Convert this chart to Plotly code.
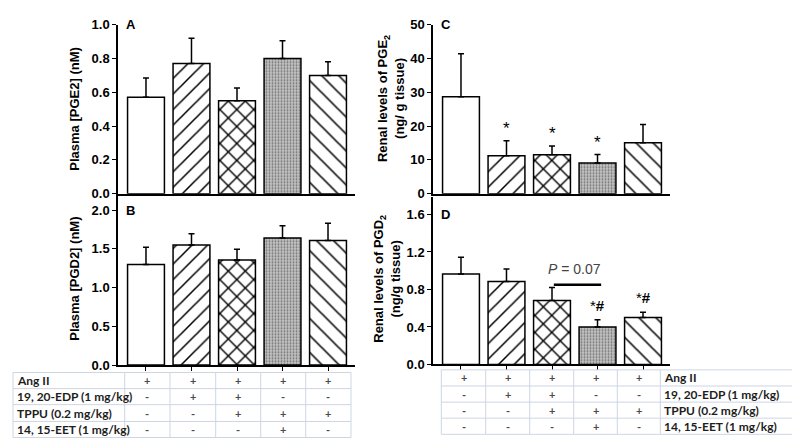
import plotly.graph_objects as go

# ---------------- data ----------------
groups = ["Ang II", "Ang II+EDP", "Ang II+EDP+TPPU", "Ang II+TPPU+EET", "Ang II+TPPU"]
xpos = [0, 1, 2, 3, 4]

plasma_pge2 = [0.57, 0.77, 0.55, 0.80, 0.70]
plasma_pge2_err = [0.115, 0.15, 0.075, 0.105, 0.08]

renal_pge2 = [28.7, 11.2, 11.5, 9.1, 15.1]
renal_pge2_err = [12.7, 4.5, 2.6, 2.5, 5.4]

plasma_pgd2 = [1.30, 1.55, 1.355, 1.64, 1.61]
plasma_pgd2_err = [0.22, 0.145, 0.14, 0.16, 0.22]

renal_pgd2 = [0.964, 0.884, 0.681, 0.40, 0.50]
renal_pgd2_err = [0.18, 0.135, 0.14, 0.077, 0.057]

sig_c = ["", "*", "*", "*", ""]
sig_d = ["", "", "", "*<b>#</b>", "*<b>#</b>"]
p_text = "<i>P</i> = 0.07"
p_line_y = 0.85
p_text_y = 0.985

treatments = ["Ang II", "19, 20-EDP (1 mg/kg)", "TPPU (0.2 mg/kg)", "14, 15-EET (1 mg/kg)"]
design = [
    ["+", "-", "-", "-"],
    ["+", "+", "-", "-"],
    ["+", "+", "+", "-"],
    ["+", "-", "+", "+"],
    ["+", "-", "+", "-"],
]

# ---------------- styles ----------------
W, H = 800, 443
shapes_ = ["", "/", "x", ".", "\\"]
fg = ["black", "black", "black", "#707070", "black"]
bg = ["white", "white", "white", "#c2c2c2", "white"]
psize = [8, 11, 12, 3, 12]
psol = [0.1, 0.14, 0.22, 0.3, 0.13]

fig = go.Figure()

def add_panel(vals, errs, xa, ya):
    fig.add_trace(go.Bar(
        x=xpos, y=vals, width=0.81, xaxis=xa, yaxis=ya,
        marker=dict(color="white", line=dict(color="black", width=1.5),
                    pattern=dict(shape=shapes_, fgcolor=fg, bgcolor=bg,
                                 size=psize, solidity=psol, fillmode="replace")),
        error_y=dict(type="data", array=errs, arrayminus=[0]*5, symmetric=False,
                     color="black", thickness=1.5, width=3),
        showlegend=False, hoverinfo="skip"))

add_panel(plasma_pge2, plasma_pge2_err, "x", "y")
add_panel(renal_pge2, renal_pge2_err, "x2", "y2")
add_panel(plasma_pgd2, plasma_pgd2_err, "x3", "y3")
add_panel(renal_pgd2, renal_pgd2_err, "x4", "y4")

def px_x(a, b):
    return [a / W, b / W]

def px_y(top, bottom):
    return [1 - bottom / H, 1 - top / H]

xr = [-0.615, 4.593]
tickfont = dict(family="Arial", size=13, color="black", weight="bold")

def xaxis_cfg(dom, anchor, ticks):
    return dict(domain=dom, anchor=anchor, range=xr, showline=True, linecolor="black",
                linewidth=1.5, showgrid=False, zeroline=False, showticklabels=False,
                ticks="outside" if ticks else "", tickvals=xpos, ticklen=4, tickwidth=1.2,
                tickcolor="black")

def yaxis_cfg(dom, anchor, rng, fmt, tvals):
    return dict(domain=dom, anchor=anchor, range=rng, showline=True, linecolor="black",
                linewidth=1.5, showgrid=False, zeroline=False, ticks="outside", ticklen=4,
                tickwidth=1.2, tickcolor="black", tickvals=tvals, tickformat=fmt,
                tickfont=tickfont)

fig.update_layout(
    width=W, height=H, margin=dict(l=0, r=0, t=0, b=0),
    paper_bgcolor="white", plot_bgcolor="white",
    xaxis=xaxis_cfg(px_x(110, 347), "y", False),
    yaxis=yaxis_cfg(px_y(10, 185), "x", [0, 1.0], ".1f", [0, 0.2, 0.4, 0.6, 0.8, 1.0]),
    xaxis2=xaxis_cfg(px_x(425, 662), "y2", False),
    yaxis2=yaxis_cfg(px_y(10, 185), "x2", [0, 50], "d", [0, 10, 20, 30, 40, 50]),
    xaxis3=xaxis_cfg(px_x(110, 347), "y3", True),
    yaxis3=yaxis_cfg(px_y(186, 362.3), "x3", [0, 2.2], ".1f", [0, 0.5, 1.0, 1.5, 2.0]),
    xaxis4=xaxis_cfg(px_x(425, 662), "y4", True),
    yaxis4=yaxis_cfg(px_y(188, 361.7), "x4", [0, 1.79], ".1f", [0, 0.4, 0.8, 1.2, 1.6]),
)

ann = []
shp = []
lab_font = dict(family="Arial", size=13, color="black", weight="bold")
# panel letters
for txt, xa, ya, yv in [("A", "x", "y", 1.0), ("C", "x2", "y2", 50), ("B", "x3", "y3", 2.0), ("D", "x4", "y4", 1.6)]:
    ann.append(dict(text=txt, xref=xa + " domain", yref=ya, x=0.025, y=yv, xanchor="left",
                    yanchor="middle", showarrow=False, font=lab_font))

# y titles
title_font = dict(family="Arial", size=13, color="black", weight="bold")
ann.append(dict(text="Plasma [PGE2] (nM)", xref="paper", yref="paper", x=67 / W, y=1 - 97 / H,
                textangle=-90, showarrow=False, font=title_font, xanchor="center", yanchor="middle"))
ann.append(dict(text="Plasma [PGD2] (nM)", xref="paper", yref="paper", x=67 / W, y=1 - 273 / H,
                textangle=-90, showarrow=False, font=title_font, xanchor="center", yanchor="middle"))
ann.append(dict(text="Renal levels of PGE<sub>2</sub><br>(ng/ g tissue)", xref="paper", yref="paper",
                x=383 / W, y=1 - 87 / H, textangle=-90, showarrow=False, font=title_font,
                xanchor="center", yanchor="middle"))
ann.append(dict(text="Renal levels of PGD<sub>2</sub><br>(ng/g tissue)", xref="paper", yref="paper",
                x=379 / W, y=1 - 273 / H, textangle=-90, showarrow=False, font=title_font,
                xanchor="center", yanchor="middle"))

# significance marks
for i, s in enumerate(sig_c):
    if s:
        ann.append(dict(text=s, xref="x2", yref="y2", x=xpos[i], y=renal_pge2[i] + renal_pge2_err[i],
                        yanchor="bottom", yshift=1, showarrow=False,
                        font=dict(family="Arial", size=17, color="black")))
for i, s in enumerate(sig_d):
    if s:
        ann.append(dict(text=s, xref="x4", yref="y4", x=xpos[i], y=renal_pgd2[i] + renal_pgd2_err[i],
                        yanchor="bottom", yshift=4, showarrow=False,
                        font=dict(family="Arial", size=15, color="black")))
ann.append(dict(text=p_text, xref="x4", yref="y4", x=(xpos[2] + xpos[3]) / 2, y=p_text_y,
                yshift=3, showarrow=False, font=dict(family="Arial", size=14, color="#444444")))
shp.append(dict(type="line", xref="x4", yref="y4", x0=xpos[2] + 0.04, x1=xpos[3] + 0.08,
                y0=p_line_y, y1=p_line_y, line=dict(color="black", width=2.5)))

# ---------------- tables (annotations + grid lines) ----------------
line_col = "#cdd5e3"
lab_tfont = dict(family="Lato", size=12, color="#1e1e1e", weight="bold")
sym_tfont = dict(family="Lato", size=11, color="#4a4a4a", weight="bold")

def draw_table(col_edges, row_edges, label_col):
    # col_edges / row_edges in pixels; label_col: index of label column (0 or last)
    for xe in col_edges:
        shp.append(dict(type="line", xref="paper", yref="paper", x0=xe / W, x1=xe / W,
                        y0=1 - row_edges[0] / H, y1=1 - row_edges[-1] / H,
                        line=dict(color=line_col, width=1)))
    for ye in row_edges:
        shp.append(dict(type="line", xref="paper", yref="paper", x0=col_edges[0] / W,
                        x1=col_edges[-1] / W, y0=1 - ye / H, y1=1 - ye / H,
                        line=dict(color=line_col, width=1)))
    ncols = len(col_edges) - 1
    gcols = [c for c in range(ncols) if c != label_col]
    for r, lab in enumerate(treatments):
        yc = 1 - (row_edges[r] + row_edges[r + 1]) / 2 / H
        ann.append(dict(text=lab, xref="paper", yref="paper", x=(col_edges[label_col] + 2) / W, y=yc,
                        xanchor="left", yanchor="middle", showarrow=False, font=lab_tfont))
        for g, c in enumerate(gcols):
            xc = (col_edges[c] + col_edges[c + 1]) / 2 / W
            ann.append(dict(text=design[g][r], xref="paper", yref="paper", x=xc, y=yc,
                            xanchor="center", yanchor="middle", showarrow=False, font=sym_tfont))

draw_table([5, 116.7, 162, 207.7, 252.7, 297.7, 343], [370, 386.7, 403.3, 420.7, 437.3], 0)
draw_table([433.3, 477.7, 521.7, 565.7, 609.3, 652.3, 790], [367.3, 384, 400.7, 417.3, 434], 5)

fig.update_layout(annotations=ann, shapes=shp)

fig.write_html("out.html")
